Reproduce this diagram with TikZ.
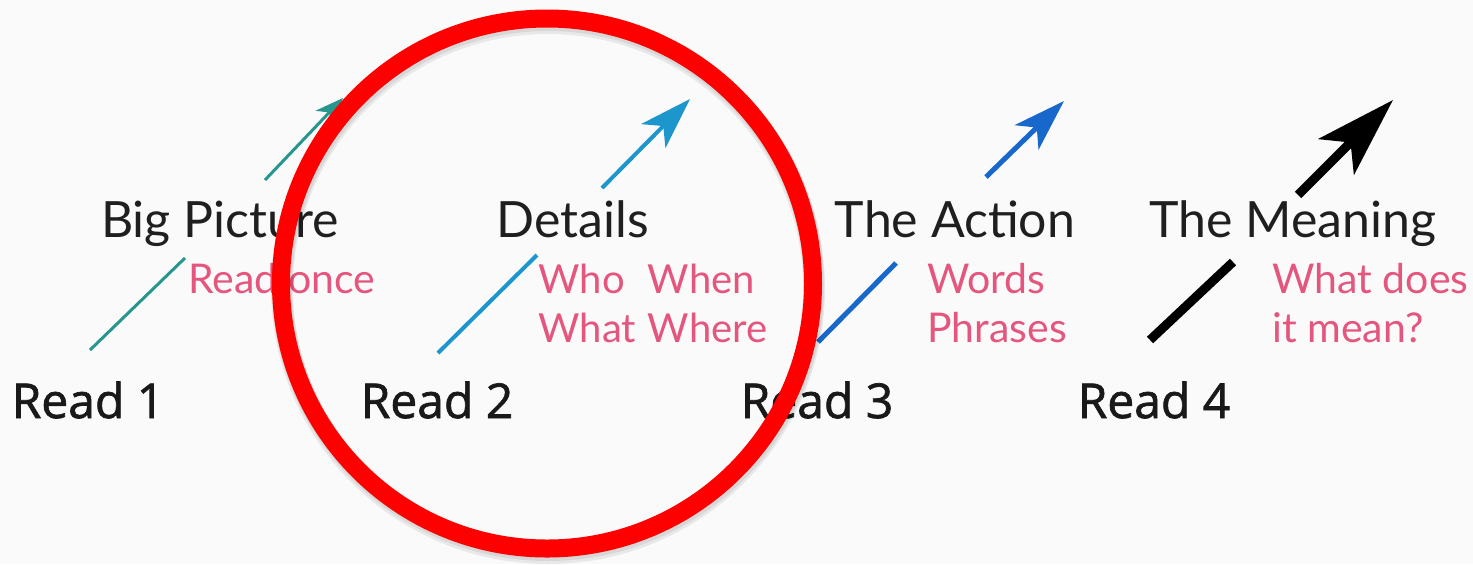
\documentclass[tikz,border=0pt]{standalone}
\usepackage{fontspec}
\setmainfont{Lato}
\newfontfamily\readfont{Open Sans}[FakeBold=1.5]
\usetikzlibrary{arrows.meta}
\definecolor{bgwhite}{RGB}{250,250,250}
\definecolor{notepink}{RGB}{228,86,126}
\definecolor{tealone}{RGB}{38,150,143}
\definecolor{bluetwo}{RGB}{28,150,204}
\definecolor{bluethree}{RGB}{24,104,204}
\definecolor{ringred}{RGB}{255,0,0}
\newcommand{\twolines}[2]{\begin{tabular}[t]{@{}l@{}}#1\\#2\end{tabular}}

\begin{document}
\begin{tikzpicture}[x=0.5pt,y=-0.5pt,
    title/.style={anchor=base,inner sep=0pt,font=\fontsize{25}{30}\selectfont,text=black!88},
    read/.style={anchor=base,inner sep=0pt,font=\readfont\fontsize{24}{28}\selectfont,text=black!90},
    note/.style={anchor=base west,inner sep=0pt,font=\fontsize{20.5}{24.5}\selectfont,text=notepink},
    smallhead/.style={-{Stealth[length=14pt,width=11pt,inset=4pt]}},
    head/.style={-{Stealth[length=26pt,width=17pt,inset=7pt]}},
    bighead/.style={-{Stealth[length=40pt,width=25pt,inset=10pt]}}]
    \fill[bgwhite] (0,0) rectangle (1473,564);
    % end points of the four arrows
    \coordinate (s1) at (90,350);   \coordinate (g1) at (185,258);
    \coordinate (h1) at (265,180);  \coordinate (t1) at (343,98);
    \coordinate (s2) at (438,353);  \coordinate (g2) at (537,255);
    \coordinate (h2) at (602,188);  \coordinate (t2) at (690,99);
    \coordinate (s3) at (818,342);  \coordinate (g3) at (896,263);
    \coordinate (h3) at (986,177);  \coordinate (t3) at (1064,101);
    \coordinate (s4) at (1150,340); \coordinate (g4) at (1233,262);
    \coordinate (h4) at (1298,195); \coordinate (t4) at (1393,100);
    \draw[tealone,line width=1.5pt] (s1) -- (g1);
    \draw[tealone,line width=1.5pt,smallhead] (h1) -- (t1);
    \draw[bluetwo,line width=2pt] (s2) -- (g2);
    \draw[bluetwo,line width=2pt,head] (h2) -- (t2);
    \draw[bluethree,line width=2.5pt] (s3) -- (g3);
    \draw[bluethree,line width=2.5pt,head] (h3) -- (t3);
    \draw[black,line width=4.5pt] (s4) -- (g4);
    \draw[black,line width=4.5pt,bighead] (h4) -- (t4);
    % titles
    \node[title] (big) at (220,237) {Big Picture};
    \node[title] (det) at (573,237) {Details};
    \node[title] (act) at (955,237) {The Action};
    \node[title] (mea) at (1293,237) {The Meaning};
    % reads
    \node[read] (r1) at (88,418) {Read 1};
    \node[read] (r2) at (437,418) {Read 2};
    \node[read] (r3) at (817,418) {Read 3};
    \node[read] (r4) at (1154,418) {Read 4};
    % notes
    \node[note] (n1) at (188,293) {Read once};
    \node[note,font=\fontsize{20}{24.5}\selectfont] (n2) at (538,293) {\begin{tabular}[t]{@{}l@{\hspace{6pt}}l@{}}Who&When\\What&Where\end{tabular}};
    \node[note] (n3) at (927,293) {\twolines{Words}{Phrases}};
    \node[note] (n4) at (1272,293) {\twolines{What does}{it mean?}};
    % the ring
    \draw[black,opacity=0.07,line width=10pt] (548,286) ellipse [x radius=266,y radius=265];
    \draw[black,opacity=0.07,line width=11pt] (548,288) ellipse [x radius=266,y radius=265];
    \draw[ringred,line width=9pt] (547,283.5) ellipse [x radius=266,y radius=265];
\end{tikzpicture}
\end{document}
